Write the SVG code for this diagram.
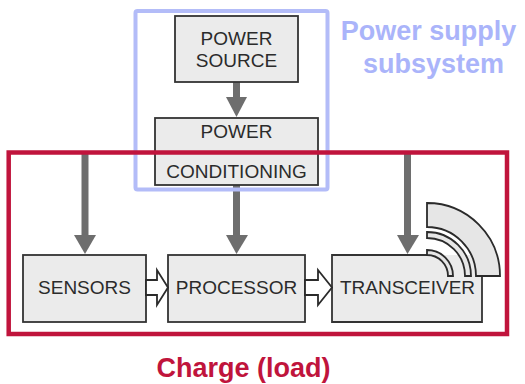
<svg xmlns="http://www.w3.org/2000/svg" width="525" height="384" viewBox="0 0 525 384">
<style>
.box{fill:#ebebeb;stroke:#333;stroke-width:1.8}
.lbl{font-family:"Liberation Sans",Arial,sans-serif;font-size:19px;fill:#2b2b2b;text-anchor:middle}
.shaft{stroke:#6e6e6e;stroke-width:7;fill:none}
.head{fill:#6e6e6e}
.hollow{fill:#fff;stroke:#2b2b2b;stroke-width:1.8;stroke-linejoin:miter}
.wave{fill:#e6e6e6;stroke:#2b2b2b;stroke-width:1.8}
.title{font-family:"Liberation Sans",Arial,sans-serif;font-weight:bold;font-size:27px;text-anchor:middle}
</style>
<rect width="525" height="384" fill="#fff"/>
<g id="connectors">
  <line class="shaft" x1="236.5" y1="82" x2="236.5" y2="98"/>
  <polygon class="head" points="226,97 247,97 236.5,117"/>
  <line class="shaft" x1="85" y1="152" x2="85" y2="237"/>
  <polygon class="head" points="74,235 96,235 85,254"/>
  <line class="shaft" x1="236.5" y1="185" x2="236.5" y2="237"/>
  <polygon class="head" points="226,235 248,235 236.5,254"/>
  <line class="shaft" x1="407.5" y1="152" x2="407.5" y2="237"/>
  <polygon class="head" points="397,235 419,235 407.5,254"/>
</g>
<g id="power-source">
  <rect class="box" x="175" y="16" width="123" height="66"/>
  <text class="lbl" x="236.5" y="45">POWER</text>
  <text class="lbl" x="236.5" y="67">SOURCE</text>
</g>
<g id="power-conditioning">
  <rect class="box" x="155" y="118" width="163" height="67"/>
  <text class="lbl" x="236.5" y="138">POWER</text>
  <text class="lbl" x="236.5" y="178">CONDITIONING</text>
</g>
<g id="sensors">
  <rect class="box" x="23" y="255" width="123" height="67"/>
  <text class="lbl" x="84.5" y="294">SENSORS</text>
</g>
<g id="processor">
  <rect class="box" x="168" y="255" width="137" height="67"/>
  <text class="lbl" x="236.5" y="294">PROCESSOR</text>
</g>
<g id="transceiver">
  <rect x="332" y="255" width="150" height="67" fill="#ebebeb"/>
  <path d="M427,255 H332 V322 H482 V276" fill="none" stroke="#333" stroke-width="1.8"/>
  <path class="wave" d="M427,203 A73,73 0 0 1 500,276 H476 A49,49 0 0 0 427,227 Z"/>
  <path class="wave" d="M427,232 A44,44 0 0 1 471,276 H465 A38,38 0 0 0 427,238 Z"/>
  <path class="wave" d="M427,250 A26,26 0 0 1 453,276 H448 A21,21 0 0 0 427,255 Z"/>
  <text class="lbl" x="407.5" y="294">TRANSCEIVER</text>
</g>
<g id="data-arrows">
  <polygon class="hollow" points="146,280 157,280 157,270 168,287.5 157,305 157,295 146,295"/>
  <polygon class="hollow" points="305,280 318,280 318,270 332,287.5 318,305 318,295 305,295"/>
</g>
<g id="power-supply-subsystem">
  <rect x="135.5" y="11" width="192" height="178.5" rx="2" fill="none" stroke="#b3bcf8" stroke-width="4"/>
  <text class="title" x="428.5" y="40" fill="#aab4fa">Power supply</text>
  <text class="title" x="433.5" y="73" fill="#aab4fa">subsystem</text>
</g>
<g id="charge-load">
  <rect x="8.7" y="152.5" width="498.3" height="181.5" fill="none" stroke="#c0143c" stroke-width="4.5"/>
  <text class="title" x="243.5" y="377" fill="#c0143c">Charge (load)</text>
</g>
</svg>
